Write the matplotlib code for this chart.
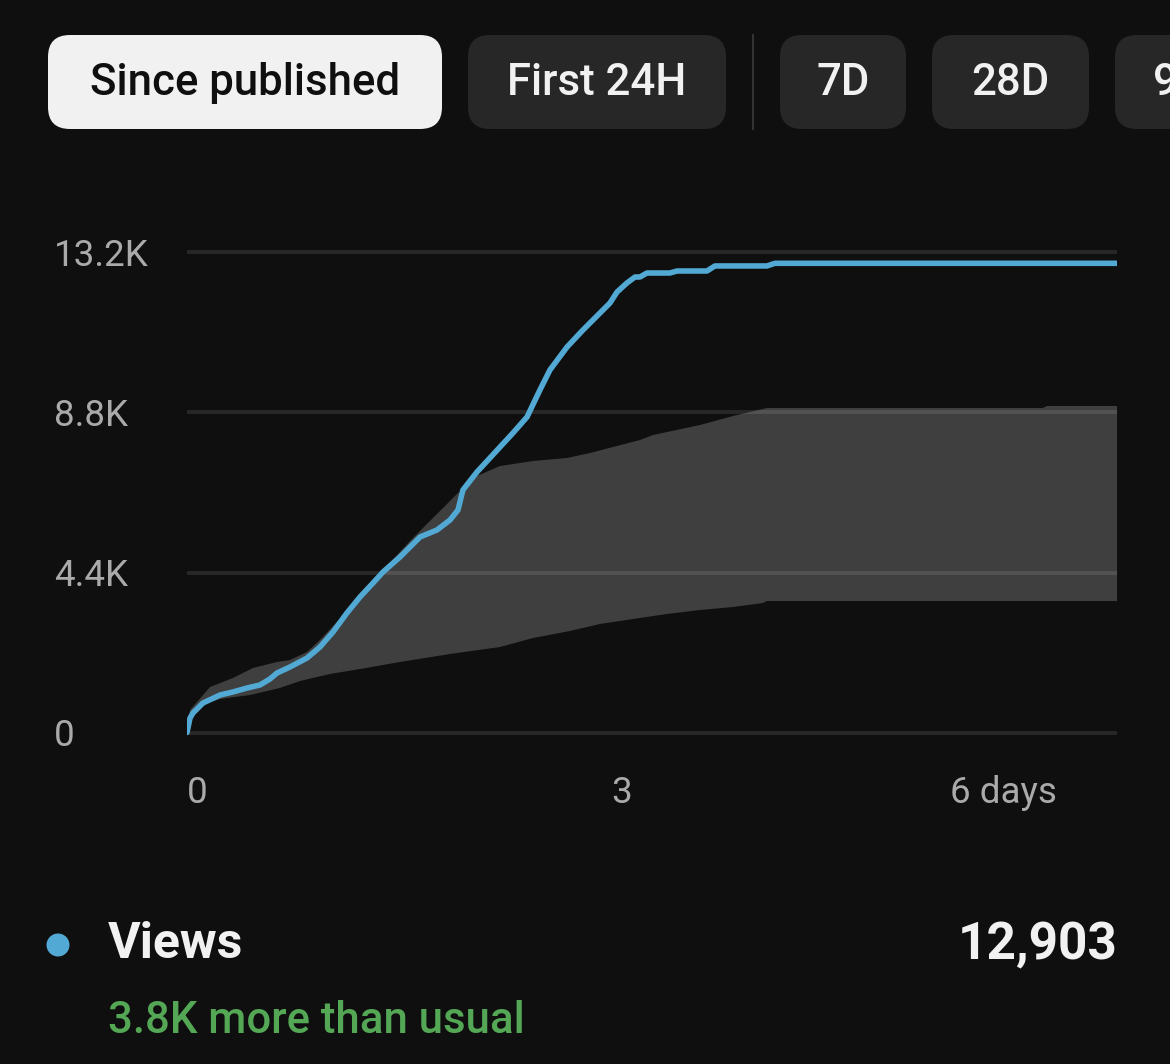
import numpy as np
import matplotlib
matplotlib.use("Agg")
import matplotlib.pyplot as plt
from matplotlib.patches import FancyBboxPatch, Ellipse

# ---------------- data ----------------
# cumulative views of this video (days since published -> views)
line_days = [0.000, 0.021, 0.041, 0.110, 0.228, 0.317, 0.414, 0.503, 0.572, 0.621,
             0.710, 0.828, 0.917, 1.007, 1.103, 1.193, 1.283, 1.352, 1.414, 1.469,
             1.607, 1.724, 1.814, 1.869, 1.903, 2.000, 2.159, 2.248, 2.345, 2.434,
             2.503, 2.621, 2.731, 2.848, 2.917, 2.966, 3.034, 3.090, 3.124, 3.172,
             3.331, 3.379, 3.586, 3.641, 4.000, 4.055, 6.414]
line_views = [0, 399, 536, 811, 1031, 1114, 1224, 1306, 1471, 1636,
              1801, 2049, 2351, 2764, 3286, 3726, 4111, 4414, 4634, 4826,
              5376, 5569, 5844, 6119, 6669, 7164, 7851, 8236, 8676, 9419,
              9969, 10601, 11069, 11536, 11811, 12114, 12361, 12526, 12526, 12636,
              12636, 12691, 12691, 12830, 12830, 12903, 12903]

# typical performance range (upper / lower bound)
band_hi_days = [0.000, 0.021, 0.159, 0.317, 0.455, 0.621, 0.710, 0.828, 0.917, 1.007,
                1.145, 1.241, 1.379, 1.538, 1.655, 1.766, 1.862, 2.000, 2.159, 2.386,
                2.621, 2.779, 2.966, 3.124, 3.214, 3.538, 3.766, 4.000, 5.903, 5.931,
                6.414]
band_hi = [0, 619, 1251, 1499, 1774, 1939, 1994, 2214, 2544, 2929,
           3479, 4029, 4579, 5266, 5734, 6174, 6559, 7054, 7329, 7466,
           7549, 7686, 7879, 8044, 8181, 8456, 8704, 8924, 8924, 8979,
           8979]
band_lo_days = [0.000, 0.041, 0.124, 0.228, 0.434, 0.641, 0.779, 0.986, 1.193, 1.469,
                1.814, 2.159, 2.386, 2.641, 2.848, 3.076, 3.310, 3.538, 3.766, 3.972,
                4.000, 6.414]
band_lo = [0, 454, 784, 921, 1031, 1224, 1416, 1609, 1746, 1939,
           2159, 2351, 2599, 2791, 2984, 3121, 3259, 3369, 3451, 3561,
           3616, 3616]

y_ticks = [0, 4400, 8800, 13200]
y_labels = ["0", "4.4K", "8.8K", "13.2K"]
x_ticks = [0, 3, 6]
x_labels = ["0", "3", "6 days"]

buttons = ["Since published", "First 24H", "7D", "28D", "90D"]
metric_name = "Views"
metric_total = "12,903"
metric_note = "3.8K more than usual"

# ---------------- style ----------------
BG = "#0f0f0f"
BAND = "#3f3f3f"
LINE = "#52a9d3"
TICK = "#aaaaaa"
GREEN = "#54a855"
FONT = ["Roboto", "DejaVu Sans"]
plt.rcParams["font.family"] = FONT

W, H = 1170, 1064
fig = plt.figure(figsize=(W / 100, H / 100), dpi=100, facecolor=BG)

# overlay in pixel coordinates for the UI chrome
ui = fig.add_axes([0, 0, 1, 1], zorder=0)
ui.set_xlim(0, W)
ui.set_ylim(H, 0)
ui.axis("off")
ui.set_facecolor(BG)

# buttons: (left, right) in px
btn_boxes = [(48, 442), (468, 726), (780, 906), (932, 1089), (1115, 1272)]
for (l, r), label in zip(btn_boxes, buttons):
    active = label == "Since published"
    fc = "#f1f1f1" if active else "#272727"
    tc = "#0f0f0f" if active else "#f1f1f1"
    ui.add_patch(FancyBboxPatch((l, 35), r - l, 94,
                                boxstyle="round,pad=0,rounding_size=22",
                                fc=fc, ec="none"))
    cx = (l + r) / 2
    ui.text(cx if label != "90D" else 1153, 83, label, color=tc, fontsize=31.5,
            fontweight="medium", ha="center" if label != "90D" else "left",
            va="center")
ui.plot([753, 753], [35, 129], color="#333333", lw=1.5)

# legend / summary
ui.add_patch(Ellipse((58, 945), 23, 23, fc=LINE, ec="none"))
ui.text(108, 945, metric_name, color="#f1f1f1", fontsize=36, fontweight="bold",
        ha="left", va="center")
ui.text(1118, 945, metric_total, color="#f1f1f1", fontsize=37, fontweight="bold",
        ha="right", va="center")
ui.text(108, 1021, metric_note, color=GREEN, fontsize=31.5, fontweight="medium",
        ha="left", va="center")

# ---------------- chart ----------------
ymin, ymax = -150, 13450
px_per = 480 / 13200
bot_px = 732.5 + (0 - ymin) * px_per
top_px = 252.5 - (ymax - 13200) * px_per
left_px, right_px = 187, 1117
ax = fig.add_axes([left_px / W, (H - bot_px) / H, (right_px - left_px) / W,
                   (bot_px - top_px) / H], zorder=1)
ax.set_facecolor("none")
ax.set_xlim(0, line_days[-1])
ax.set_ylim(ymin, ymax)

poly_x = np.concatenate([band_hi_days, band_lo_days[::-1]])
poly_y = np.concatenate([band_hi, band_lo[::-1]])
ax.fill(poly_x, poly_y, color=BAND, lw=0, zorder=1)

ax.plot(line_days, line_views, color=LINE, lw=4, solid_capstyle="round",
        solid_joinstyle="round", zorder=3)

ax.set_yticks(y_ticks, y_labels)
ax.set_xticks(x_ticks, x_labels)
ax.yaxis.grid(True, color="white", alpha=0.1, lw=2.8, zorder=2)
ax.set_axisbelow(False)
for gl in ax.get_ygridlines():
    gl.set_zorder(2)
ax.xaxis.grid(False)
for s in ax.spines.values():
    s.set_visible(False)
ax.tick_params(axis="both", length=0, colors=TICK, labelsize=26.5)
ax.tick_params(axis="y", pad=96)
ax.tick_params(axis="x", pad=27)
for lbl in ax.get_yticklabels():
    lbl.set_ha("left")
for lbl, ha in zip(ax.get_xticklabels(), ["left", "center", "right"]):
    lbl.set_ha(ha)

fig.savefig("out.png", dpi=100, facecolor=BG)
